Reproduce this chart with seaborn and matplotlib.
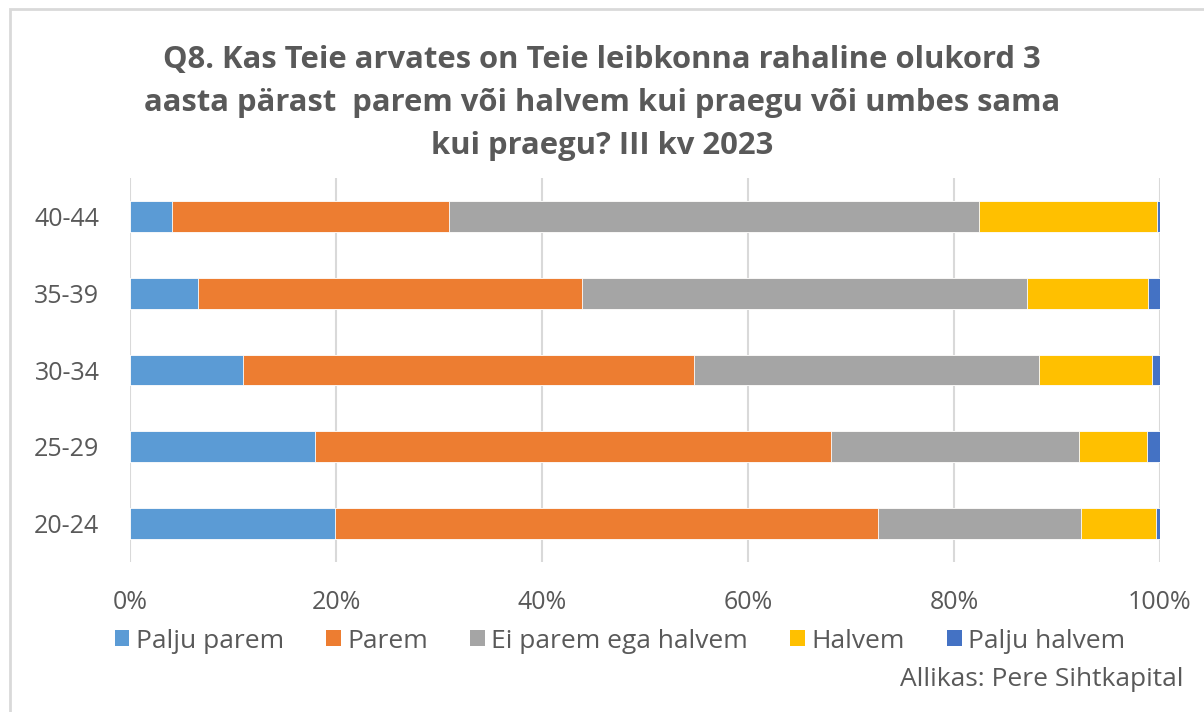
import matplotlib
matplotlib.use("Agg")
import matplotlib.pyplot as plt
import seaborn as sns
import numpy as np
import pandas as pd
from matplotlib.patches import Rectangle, Patch

categories = ["40-44", "35-39", "30-34", "25-29", "20-24"]
series_names = ["Palju parem", "Parem", "Ei parem ega halvem", "Halvem", "Palju halvem"]
palju_parem = [4.1, 6.6, 11.0, 18.0, 19.9]
parem = [26.9, 37.3, 43.8, 50.1, 52.7]
ei_parem = [51.4, 43.2, 33.5, 24.0, 19.7]
halvem = [17.3, 11.7, 10.9, 6.6, 7.3]
palju_halvem = [0.3, 1.2, 0.8, 1.3, 0.4]
colors = ["#5B9BD5", "#ED7D31", "#A5A5A5", "#FFC000", "#4472C4"]
xticks = [0, 20, 40, 60, 80, 100]
xtick_labels = ["0%", "20%", "40%", "60%", "80%", "100%"]
title = "Q8. Kas Teie arvates on Teie leibkonna rahaline olukord 3\naasta pärast  parem või halvem kui praegu või umbes sama\nkui praegu? III kv 2023"
source = "Allikas: Pere Sihtkapital"

sns.set_theme(style="white")
plt.rcParams['font.family'] = ['Open Sans', 'DejaVu Sans']
txt = "#595959"

fig = plt.figure(figsize=(12.04, 7.12), dpi=100)
ax = fig.add_axes([130/1204, 1 - 562/712, 1030/1204, 384/712])

series = [palju_parem, parem, ei_parem, halvem, palju_halvem]
total = np.array(series, dtype=float)
total = total / total.sum(axis=0) * 100
cum = np.cumsum(total, axis=0)
for i in range(len(series) - 1, -1, -1):
    df = pd.DataFrame({"cat": categories, "val": cum[i]})
    sns.barplot(data=df, x="val", y="cat", order=categories, orient="h",
                color=colors[i], saturation=1, width=0.4, ax=ax,
                edgecolor="white", linewidth=0.6, zorder=3)

ax.set_xlim(0, 100)
ax.set_ylim(4.5, -0.5)
ax.set_xticks(xticks)
ax.set_xticklabels(xtick_labels)
ax.set_xlabel("")
ax.set_ylabel("")
ax.grid(axis="x", color="#D9D9D9", linewidth=1.5, zorder=0)
ax.set_axisbelow(True)
for s in ax.spines.values():
    s.set_visible(False)
ax.tick_params(axis="both", length=0, colors=txt, labelsize=18)
ax.tick_params(axis="x", pad=20)
ax.tick_params(axis="y", pad=22)

fig.text(0.5, 1 - 103/712, title, ha="center", va="center", fontsize=22.3,
         fontweight="bold", color=txt, linespacing=1.57)

handles = [Patch(facecolor=c, edgecolor="none") for c in colors]
fig.legend(handles, series_names, loc="center", bbox_to_anchor=(620/1204, 1 - 641/712),
           ncol=5, frameon=False, fontsize=19, labelcolor=txt,
           handlelength=0.55, handleheight=0.55, handletextpad=0.25, columnspacing=1.6,
           borderpad=0, borderaxespad=0)

fig.text(1183/1204, 1 - 680/712, source, ha="right", va="center", fontsize=19, color=txt)

fig.patches.append(Rectangle((10/1204, -0.1), 1.2, 1.1 - 9/712, transform=fig.transFigure,
                             fill=False, edgecolor="#D9D9D9", linewidth=2))

fig.savefig("out.png", dpi=100)
